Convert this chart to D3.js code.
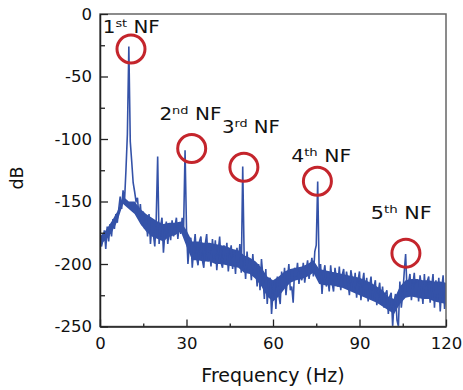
<!DOCTYPE html>
<html lang="en">
<head>
<meta charset="utf-8">
<title>NF spectrum</title>
<script src="https://d3js.org/d3.v7.min.js"></script>
<style>
body { margin: 0; background: #fff; }
text { font-family: "DejaVu Sans", sans-serif; fill: #111; }
.trace { fill: none; stroke: #3452a8; stroke-width: 1.6px; stroke-linejoin: miter; }
.core { fill: #3452a8; stroke: none; }
.nf-ring { fill: none; stroke: #c4252c; stroke-width: 3px; }
</style>
</head>
<body>
<div id="main"></div>
<script>
    const width = 463;
    const height = 390;
    const margin = {top: 14, right: 17, bottom: 63.5, left: 100};

    // spectrum, one value every 0.5 Hz from 0 to 120 Hz
    const freqs = d3.range(0, 120.25, 0.5);
    const traceDb = [
        -176, -186, -181, -173, -188, -170, -182, -168, -178, -164,
        -172, -160, -167, -156, -146, -156, -141, -150, -125, -96,
        -26, -102, -118, -135, -142, -150, -147, -163, -152, -169,
        -158, -172, -164, -178, -160, -184, -169, -176, -186, -164,
        -114, -184, -170, -163, -191, -175, -166, -184, -172, -181,
        -165, -178, -170, -163, -180, -168, -176, -163, -171, -109,
        -172, -200, -184, -179, -203, -188, -176, -195, -201, -182,
        -178, -197, -203, -184, -176, -198, -189, -202, -180, -196,
        -181, -205, -190, -178, -199, -203, -185, -194, -183, -206,
        -193, -185, -204, -192, -208, -187, -199, -184, -207, -122,
        -195, -212, -190, -206, -198, -213, -192, -209, -201, -218,
        -200, -221, -196, -210, -228, -204, -232, -214, -211, -240,
        -222, -214, -236, -210, -225, -232, -206, -220, -203, -225,
        -212, -200, -221, -218, -231, -203, -210, -199, -216, -206,
        -213, -199, -215, -205, -197, -212, -203, -195, -210, -190,
        -185, -134, -205, -200, -224, -208, -201, -218, -211, -222,
        -201, -215, -222, -203, -212, -218, -202, -221, -209, -204,
        -219, -206, -214, -225, -205, -212, -221, -207, -227, -213,
        -206, -229, -215, -207, -226, -211, -230, -218, -210, -228,
        -219, -213, -233, -222, -215, -231, -218, -235, -224, -221,
        -240, -226, -223, -250, -230, -224, -245, -250, -214, -235,
        -224, -207, -192, -222, -215, -208, -229, -217, -207, -226,
        -212, -230, -209, -219, -232, -208, -227, -214, -210, -231,
        -219, -208, -235, -213, -230, -211, -238, -220, -209, -236,
        -226
    ];

    // dense (solid-looking) core of the noise band, every 2 Hz
    const coreFreq = d3.range(0, 120.5, 2);
    const coreHi = [
        -178, -173, -166, -158, -146, -150, -150, -156, -160, -163,
        -166, -168, -167, -167, -166, -173, -182, -182, -183, -183,
        -184, -185, -186, -188, -189, -193, -195, -198, -203, -210,
        -213, -210, -206, -204, -203, -202, -200, -197, -204, -205,
        -206, -207, -208, -209, -210, -211, -213, -215, -218, -221,
        -226, -228, -218, -213, -212, -212, -213, -213, -214, -214,
        -215
    ];
    const coreLo = [
        -184, -181, -175, -166, -152, -156, -160, -168, -174, -178,
        -180, -182, -178, -177, -174, -186, -197, -197, -198, -198,
        -200, -200, -201, -202, -203, -207, -208, -212, -218, -226,
        -230, -226, -220, -215, -213, -212, -210, -207, -216, -217,
        -217, -218, -219, -221, -223, -225, -227, -229, -231, -234,
        -237, -240, -232, -227, -226, -227, -228, -228, -230, -231,
        -232
    ];

    const xTicks = [0, 30, 60, 90, 120];
    const xMinor = [15, 45, 75, 105];
    const yTicks = [0, -50, -100, -150, -200, -250];
    const yMinor = [-25, -75, -125, -175, -225];

    // the five marked noise-frequency peaks
    const nfOrdinal = ['1', '2', '3', '4', '5'];
    const nfSuffix = ['st', 'nd', 'rd', 'th', 'th'];
    const ringFreq = [10.75, 31.8, 49.9, 75.4, 106.1];
    const ringDb = [-28, -107.6, -122.6, -133.8, -191.3];
    const labelFreq = [0.95, 20.6, 42.3, 66.3, 93.9];
    const labelDb = [-15.2, -84.9, -95.4, -118.3, -163.7];
    const labelWidths = [57, 62, 58, 60, 61];

    const svg = d3.select('#main')
        .append('svg')
        .attr('width', width)
        .attr('height', height);

    const xScale = d3.scaleLinear()
        .domain([0, 120])
        .range([margin.left, width - margin.right]);

    const yScale = d3.scaleLinear()
        .domain([-250, 0])
        .range([height - margin.bottom, margin.top]);

    svg.append('clipPath')
        .attr('id', 'plotClip')
        .append('rect')
        .attr('x', margin.left)
        .attr('y', margin.top)
        .attr('width', width - margin.left - margin.right)
        .attr('height', height - margin.top - margin.bottom);

    const plot = svg.append('g').attr('clip-path', 'url(#plotClip)');

    const area = d3.area()
        .x((d, i) => xScale(coreFreq[i]))
        .y0((d, i) => yScale(coreLo[i]))
        .y1(d => yScale(d));

    plot.append('path')
        .datum(coreHi)
        .attr('class', 'core')
        .attr('d', area);

    const line = d3.line()
        .x((d, i) => xScale(freqs[i]))
        .y(d => yScale(d));

    plot.append('path')
        .datum(traceDb)
        .attr('class', 'trace')
        .attr('d', line);

    // frame (top + right)
    svg.append('rect')
        .attr('x', margin.left)
        .attr('y', margin.top)
        .attr('width', width - margin.left - margin.right)
        .attr('height', height - margin.top - margin.bottom)
        .attr('fill', 'none')
        .attr('stroke', '#666')
        .attr('stroke-width', 1.5);

    const styleAxis = g => {
        g.selectAll('.domain').attr('stroke', '#222').attr('stroke-width', 1.5);
        g.selectAll('.tick line').attr('stroke', '#222').attr('stroke-width', 1.3);
        g.selectAll('text').attr('font-size', 16.5).attr('font-family', '"DejaVu Sans", sans-serif').attr('fill', '#111');
    };

    svg.append('g')
        .attr('transform', `translate(0, ${height - margin.bottom})`)
        .call(d3.axisBottom(xScale).tickValues(xTicks).tickSize(-7).tickSizeOuter(0).tickPadding(11))
        .call(styleAxis);

    svg.append('g')
        .attr('transform', `translate(0, ${height - margin.bottom})`)
        .call(d3.axisBottom(xScale).tickValues(xMinor).tickSize(-3).tickFormat(''))
        .call(g => g.select('.domain').remove())
        .call(styleAxis);

    svg.append('g')
        .attr('transform', `translate(${margin.left}, 0)`)
        .call(d3.axisLeft(yScale).tickValues(yTicks).tickSize(-8).tickSizeOuter(0).tickPadding(8)
            .tickFormat(d => String(d)))
        .call(styleAxis);

    svg.append('g')
        .attr('transform', `translate(${margin.left}, 0)`)
        .call(d3.axisLeft(yScale).tickValues(yMinor).tickSize(-5).tickFormat(''))
        .call(g => g.select('.domain').remove())
        .call(styleAxis);

    svg.append('text')
        .attr('x', (margin.left + width - margin.right) / 2)
        .attr('y', 381.5)
        .attr('text-anchor', 'middle')
        .attr('font-size', 19)
        .text('Frequency (Hz)');

    svg.append('text')
        .attr('transform', 'translate(23, 178) rotate(-90)')
        .attr('text-anchor', 'middle')
        .attr('font-size', 17.5)
        .text('dB');

    // red rings
    svg.selectAll('circle.nf-ring')
        .data(ringFreq)
        .enter()
        .append('circle')
        .attr('class', 'nf-ring')
        .attr('cx', d => xScale(d))
        .attr('cy', (d, i) => yScale(ringDb[i]))
        .attr('r', 14);

    // labels like "1st NF"
    nfOrdinal.forEach((ord, i) => {
        const t = svg.append('text')
            .attr('x', xScale(labelFreq[i]))
            .attr('y', yScale(labelDb[i]))
            .attr('font-size', 17)
            .attr('textLength', labelWidths[i])
            .attr('lengthAdjust', 'spacingAndGlyphs');
        t.append('tspan').text(ord);
        t.append('tspan').attr('font-size', 11).attr('dy', -6).text(nfSuffix[i]);
        t.append('tspan').attr('dy', 6).text(' NF');
    });
</script>
</body>
</html>
